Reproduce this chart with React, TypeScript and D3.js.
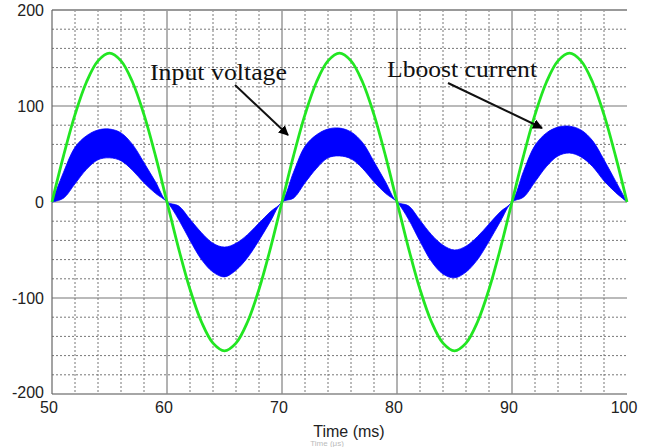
import React from "react";
import * as d3 from "d3";

// Time axis samples (ms), one per millisecond
const timeMs: number[] = d3.range(50, 101, 1);

// Input voltage (V)
const inputVoltage: number[] = [
  0, 48, 91, 125, 147, 155, 147, 125, 91, 48,
  0, -48, -91, -125, -147, -155, -147, -125, -91, -48,
  0, 48, 91, 125, 147, 155, 147, 125, 91, 48,
  0, -48, -91, -125, -147, -155, -147, -125, -91, -48,
  0, 48, 91, 125, 147, 155, 147, 125, 91, 48,
  0,
];

// Lboost current ripple band: upper envelope (max) and lower envelope (min)
const currentUpper: number[] = [
  0, 31, 57, 69, 75, 76, 72, 60, 41, 21,
  0, -4, -18, -32, -43, -47, -43, -34, -22, -10,
  0, 31, 58, 70, 76, 77, 73, 62, 42, 21,
  0, -4, -19, -34, -45, -50, -46, -36, -23, -10,
  0, 32, 59, 72, 78, 79, 75, 64, 44, 22,
  0,
];
const currentLower: number[] = [
  0, 4, 19, 34, 44, 46, 43, 33, 20, 9,
  0, -18, -40, -60, -73, -78, -71, -58, -40, -20,
  0, 4, 20, 35, 46, 48, 45, 35, 21, 9,
  0, -18, -41, -62, -75, -79, -73, -60, -41, -20,
  0, 5, 21, 37, 48, 51, 47, 37, 22, 10,
  0,
];

const xMajorTicks: number[] = [50, 60, 70, 80, 90, 100];
const yMajorTicks: number[] = [-200, -100, 0, 100, 200];
const xTitle = "Time (ms)";
const ghostTitle = "Time (μs)";
const labelVoltage = "Input voltage";
const labelCurrent = "Lboost current";

const W = 659;
const H = 447;
const L = 52, R = 627, T = 10, B = 394;

export default function App() {
  const x = d3.scaleLinear().domain([50, 100]).range([L, R]);
  const y = d3.scaleLinear().domain([-200, 200]).range([B, T]);

  const xMinor = d3.range(50, 100, 2).filter((v) => v % 10 !== 0);
  const yMinor = d3.range(-200, 200, 20).filter((v) => v % 100 !== 0);

  const bandData = timeMs.map((t, i) => ({ t, lo: currentLower[i], hi: currentUpper[i] }));
  const area = d3
    .area<{ t: number; lo: number; hi: number }>()
    .x((d) => x(d.t))
    .y0((d) => y(d.lo))
    .y1((d) => y(d.hi))
    .curve(d3.curveCatmullRom.alpha(0.5));

  const line = d3
    .line<number>()
    .x((_, i) => x(timeMs[i]))
    .y((d) => y(d))
    .curve(d3.curveCatmullRom.alpha(0.5));

  const font = "'Liberation Sans', Arial, sans-serif";
  const serif = "'Liberation Serif', 'Times New Roman', serif";

  return (
    <div style={{ position: "fixed", left: 0, top: 0, width: W, height: H, background: "#fff" }}>
      <svg width={W} height={H} viewBox={`0 0 ${W} ${H}`} style={{ display: "block" }}>
        <defs>
          <marker id="arr" viewBox="0 0 10 10" refX="9" refY="5" markerWidth="5" markerHeight="5" orient="auto">
            <path d="M0,0 L10,5 L0,10 z" fill="#000" />
          </marker>
        </defs>
        <rect x={0} y={0} width={W} height={H} fill="#fff" />

        {/* minor grid */}
        {xMinor.map((v) => (
          <line key={"xm" + v} x1={x(v)} x2={x(v)} y1={T} y2={B} stroke="#777" strokeWidth={1} strokeDasharray="2,2" />
        ))}
        {yMinor.map((v) => (
          <line key={"ym" + v} x1={L} x2={R} y1={y(v)} y2={y(v)} stroke="#777" strokeWidth={1} strokeDasharray="2,2" />
        ))}

        {/* major grid */}
        {xMajorTicks.filter((v) => v > 50 && v < 100).map((v) => (
          <line key={"xM" + v} x1={x(v)} x2={x(v)} y1={T} y2={B} stroke="#666" strokeWidth={1} />
        ))}
        {yMajorTicks.filter((v) => v > -200 && v < 200).map((v) => (
          <line key={"yM" + v} x1={L} x2={R} y1={y(v)} y2={y(v)} stroke="#777" strokeWidth={1.2} />
        ))}
        <line x1={L} x2={R} y1={y(200)} y2={y(200)} stroke="#999" strokeWidth={2} />
        <line x1={L} x2={R} y1={y(-200)} y2={y(-200)} stroke="#888" strokeWidth={1.5} />
        <line x1={L} x2={L} y1={T} y2={B} stroke="#666" strokeWidth={1.2} />

        {/* current band */}
        <path d={area(bandData) || ""} fill="#0000ff" stroke="#0000ff" strokeWidth={0.8} />

        {/* voltage */}
        <path d={line(inputVoltage) || ""} fill="none" stroke="#22e622" strokeWidth={2.8} />

        {/* y tick labels */}
        {yMajorTicks.map((v) => (
          <text key={"yl" + v} x={44} y={y(v) + (v === -200 ? -2 : 0)} textAnchor="end" dominantBaseline="central"
            fontFamily={font} fontSize={16} fill="#222">
            {v}
          </text>
        ))}
        {/* x tick labels */}
        {xMajorTicks.map((v) => (
          <text key={"xl" + v} x={x(v) - 3} y={413} textAnchor="middle" fontFamily={font} fontSize={16} fill="#222">
            {v}
          </text>
        ))}
        <text x={349} y={437} textAnchor="middle" fontFamily={font} fontSize={16} fill="#222">
          {xTitle}
        </text>
        <text x={327} y={446} textAnchor="middle" fontFamily={font} fontSize={8} fill="#bbb">
          {ghostTitle}
        </text>

        {/* annotations */}
        <text x={150} y={80} fontFamily={serif} fontSize={23} fill="#111" textLength={137} lengthAdjust="spacingAndGlyphs">
          {labelVoltage}
        </text>
        <text x={387} y={77} fontFamily={serif} fontSize={23} fill="#111" textLength={150} lengthAdjust="spacingAndGlyphs">
          {labelCurrent}
        </text>
        <line x1={235} y1={85} x2={288} y2={135} stroke="#111" strokeWidth={2} markerEnd="url(#arr)" />
        <line x1={448} y1={83} x2={542} y2={128} stroke="#111" strokeWidth={2} markerEnd="url(#arr)" />
      </svg>
    </div>
  );
}
